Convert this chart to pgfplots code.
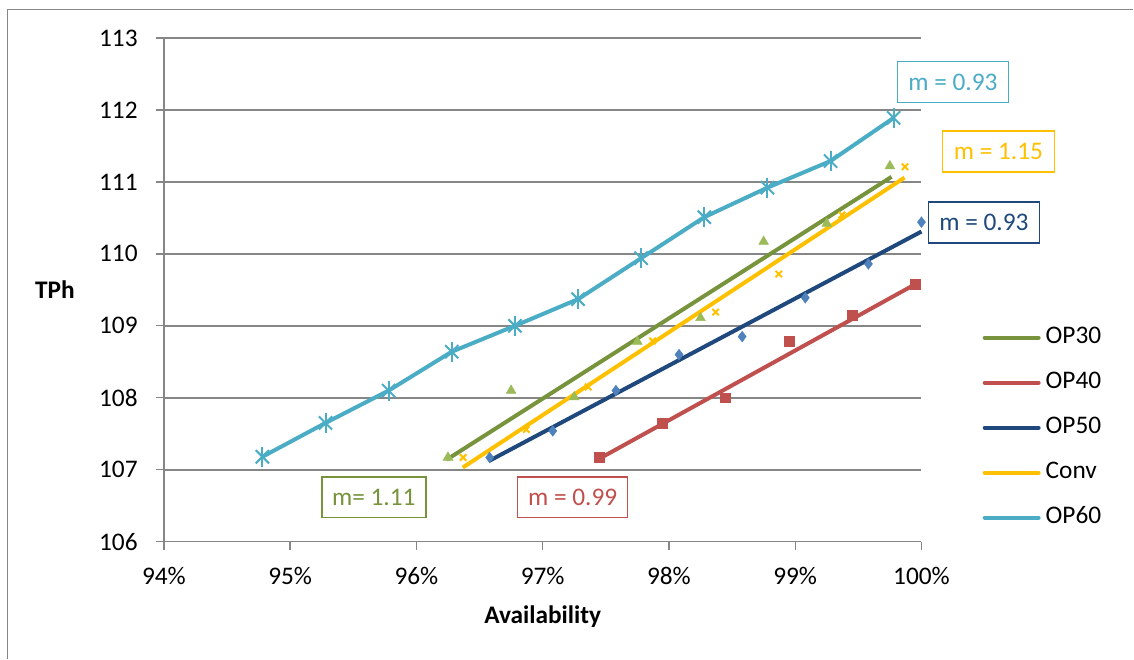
\documentclass[border=0pt]{standalone}
\usepackage{fontspec}
\setmainfont{Carlito}
\usepackage{pgfplots}
\pgfplotsset{compat=1.18}
\definecolor{axgray}{HTML}{868686}
\definecolor{gline}{HTML}{77933C}
\definecolor{gmark}{HTML}{9BBB59}
\definecolor{cred}{HTML}{C0504D}
\definecolor{bline}{HTML}{1F497D}
\definecolor{bmark}{HTML}{4F81BD}
\definecolor{cyel}{HTML}{FFC000}
\definecolor{ccyan}{HTML}{4BACC6}
\begin{document}
\begin{tikzpicture}[font=\fontsize{19}{23}\selectfont]
\path (-123pt,-87.75pt) rectangle (727.5pt,406.5pt);
\draw[axgray, line width=1pt] (-117.4pt,-87.75pt) -- (-117.4pt,399.5pt) -- (727.5pt,399.5pt);
\begin{axis}[
  at={(0pt,0pt)}, anchor=south west,
  scale only axis, width=568.5pt, height=378pt,
  xmin=94, xmax=100, ymin=106, ymax=113,
  xtick={94,95,96,97,98,99,100},
  xticklabels={94\%,95\%,96\%,97\%,98\%,99\%,100\%},
  ytick={106,107,108,109,110,111,112,113},
  axis x line*=bottom, axis y line*=left,
  axis line style={color=axgray, line width=1pt},
  ymajorgrids, grid style={color=axgray, line width=1.2pt},
  tick align=outside, major tick length=6pt,
  tick style={color=axgray, line width=1pt},
  /pgf/number format/assume math mode=true,
  yticklabel style={anchor=east, inner sep=0pt, xshift=-13.5pt},
  xticklabel style={anchor=north, inner sep=0pt, yshift=-12.75pt},
  xlabel={\bfseries Availability},
  ylabel={\bfseries TPh},
  xlabel style={at={(axis description cs:0.5,-0.1488)}, anchor=center},
  ylabel style={at={(axis description cs:-0.1438,0.5)}, rotate=-90, anchor=center},
  clip=false,
  legend cell align=left,
  legend style={draw=none, fill=none, at={(1.0805,0.4306)}, anchor=north west,
    inner sep=0pt, row sep=14.75pt, column sep=3.75pt,
    nodes={inner sep=0pt, text height=14pt, text depth=5pt}},
  legend image code/.code={\draw[#1, line cap=round] (0pt,0pt) -- (40.5pt,0pt);},
]
% trend lines
\addplot[gline, line width=3pt, no marks] coordinates {(96.24,107.14) (99.763,111.07)};
\addlegendentry{OP30}
\addplot[cred, line width=3pt, no marks] coordinates {(97.435,107.14) (99.953,109.58)};
\addlegendentry{OP40}
\addplot[bline, line width=3pt, no marks] coordinates {(96.573,107.12) (100.0,110.31)};
\addlegendentry{OP50}
\addplot[cyel, line width=3pt, no marks] coordinates {(96.367,107.03) (99.866,111.06)};
\addlegendentry{Conv}
\addplot[ccyan, line width=3pt, no marks] coordinates {
 (94.78,107.18) (95.28,107.65) (95.78,108.10) (96.28,108.64) (96.78,109.00) (97.28,109.37)
 (97.78,109.94) (98.28,110.51) (98.78,110.92) (99.28,111.29) (99.78,111.89)};
\addlegendentry{OP60}
% markers
\addplot[only marks, forget plot, mark=triangle*, mark size=4.2pt, color=gmark] coordinates {
 (96.25,107.17) (96.75,108.10) (97.25,108.01) (97.75,108.78) (98.25,109.11) (98.75,110.17) (99.25,110.42) (99.75,111.22)};
\addplot[only marks, forget plot, mark=square*, mark size=3.75pt, color=cred] coordinates {
 (97.45,107.18) (97.95,107.64) (98.45,108.00) (98.95,108.79) (99.45,109.14) (99.95,109.58)};
\addplot[only marks, forget plot, mark=diamond*, mark size=4pt, color=bmark] coordinates {
 (96.58,107.17) (97.08,107.54) (97.58,108.10) (98.08,108.60) (98.58,108.85) (99.08,109.39) (99.58,109.86) (100.0,110.44)};
\addplot[only marks, forget plot, mark=x, mark size=3.4pt, line width=1.5pt, color=cyel] coordinates {
 (96.37,107.17) (96.87,107.56) (97.36,108.15) (97.87,108.79) (98.37,109.19) (98.87,109.72) (99.37,110.54) (99.87,111.21)};
\addplot[only marks, forget plot, mark=x, mark size=7pt, line width=1.5pt, color=ccyan] coordinates {
 (94.78,107.18) (95.28,107.65) (95.78,108.10) (96.28,108.64) (96.78,109.00) (97.28,109.37)
 (97.78,109.94) (98.28,110.51) (98.78,110.92) (99.28,111.29) (99.78,111.89)};
\addplot[only marks, forget plot, mark=|, mark size=7.5pt, line width=1.5pt, color=ccyan] coordinates {
 (94.78,107.18) (95.28,107.65) (95.78,108.10) (96.28,108.64) (96.78,109.00) (97.28,109.37)
 (97.78,109.94) (98.28,110.51) (98.78,110.92) (99.28,111.29) (99.78,111.89)};
\end{axis}
\tikzset{mbox/.style={line width=1.2pt, fill=white, inner sep=0pt, minimum height=30.75pt, align=center}}
\node[mbox, draw=ccyan, text=ccyan, minimum width=83.25pt] at (592.125pt,345pt) {m = 0.93};
\node[mbox, draw=cyel, text=cyel, minimum width=84pt] at (626.25pt,292.875pt) {m = 1.15};
\node[mbox, draw=bline, text=bline, minimum width=83.25pt] at (615.375pt,239.625pt) {m = 0.93};
\node[mbox, draw=gline, text=gline, minimum width=78pt] at (157.5pt,33.375pt) {m= 1.11};
\node[mbox, draw=cred, text=cred, minimum width=82.5pt] at (306.75pt,33.375pt) {m = 0.99};
\end{tikzpicture}
\end{document}
